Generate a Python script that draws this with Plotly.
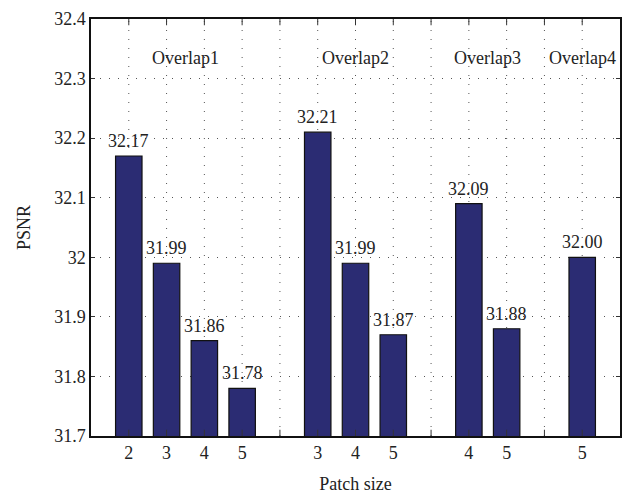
import plotly.graph_objects as go

positions = [1, 2, 3, 4, 6, 7, 8, 10, 11, 13]
patch_labels = ["2", "3", "4", "5", "3", "4", "5", "4", "5", "5"]
psnr = [32.17, 31.99, 31.86, 31.78, 32.21, 31.99, 31.87, 32.09, 31.88, 32.00]
group_names = ["Overlap1", "Overlap2", "Overlap3", "Overlap4"]
group_x = [2.5, 7, 10.5, 13]
group_y = 32.335

font_family = "Times New Roman, Liberation Serif, DejaVu Serif, serif"
fs = 18

fig = go.Figure()
fig.add_trace(go.Bar(
    x=positions, y=psnr, width=0.7,
    marker=dict(color="#2B2C73", line=dict(color="#111111", width=1.2)),
))

for px, v in zip(positions, psnr):
    fig.add_annotation(x=px, y=v, text=f"{v:.2f}", showarrow=False,
                       yanchor="bottom", yshift=3,
                       font=dict(family=font_family, size=fs, color="#222222"))

for name, gx in zip(group_names, group_x):
    fig.add_annotation(x=gx, y=group_y, text=name, showarrow=False,
                       font=dict(family=font_family, size=fs, color="#222222"))

fig.update_layout(
    width=634, height=496,
    margin=dict(l=83, r=22, t=11, b=68, autoexpand=False),
    plot_bgcolor="white", paper_bgcolor="white",
    showlegend=False,
    font=dict(family=font_family, size=fs, color="#222222"),
)
fig.update_xaxes(
    range=[0, 14], tickmode="array", tickvals=positions, ticktext=patch_labels,
    showgrid=False, showline=True, linecolor="#111111", linewidth=1.5, mirror=True,
    ticks="", title=dict(text="Patch size", standoff=15, font=dict(size=fs)),
    zeroline=False, automargin=False,
)
for gx in range(1, 14):
    fig.add_shape(type="line", xref="x", yref="paper", x0=gx, x1=gx, y0=0, y1=1,
                  line=dict(color="#555555", width=1, dash="1px,8px"), layer="below")
    fig.add_shape(type="line", xref="x", yref="paper", x0=gx, x1=gx, y0=1, y1=0.985,
                  line=dict(color="#333333", width=1), layer="above")
    fig.add_shape(type="line", xref="x", yref="paper", x0=gx, x1=gx, y0=0, y1=0.015,
                  line=dict(color="#333333", width=1), layer="above")
fig.update_yaxes(
    range=[31.7, 32.4], dtick=0.1, tick0=31.7,
    showgrid=True, gridcolor="#555555", griddash="1px,8px", gridwidth=1,
    showline=True, linecolor="#111111", linewidth=1.5, mirror="ticks",
    ticks="inside", ticklen=4, tickcolor="#333333",
    title=dict(text="PSNR", standoff=19, font=dict(size=fs)),
    zeroline=False, automargin=False,
)
fig.write_html("out.html")
